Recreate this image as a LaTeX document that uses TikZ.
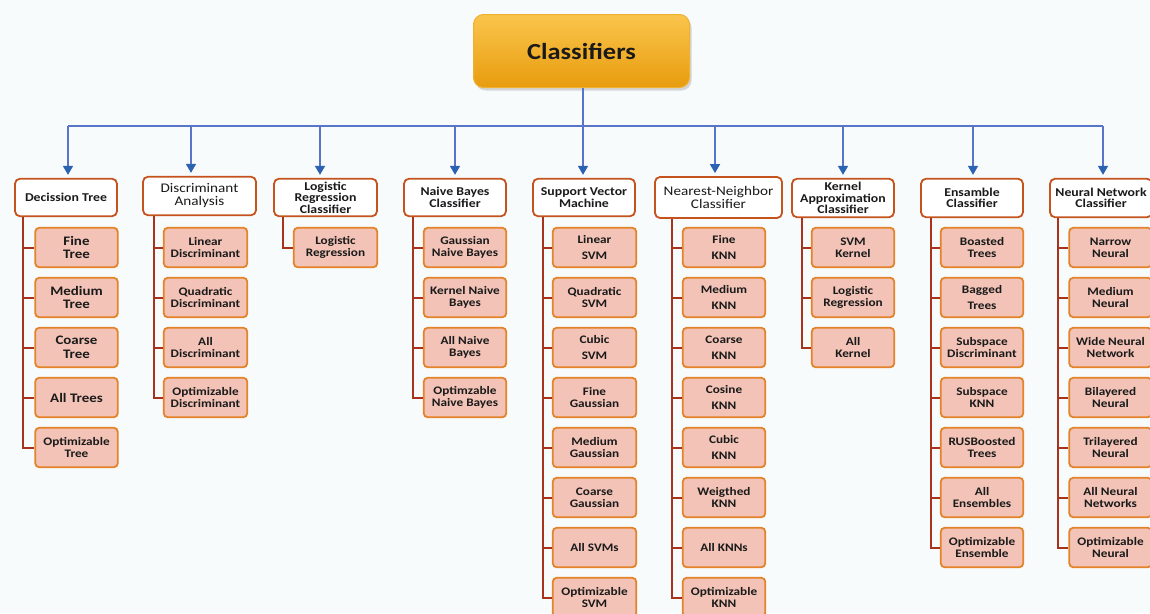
\documentclass[tikz,border=0pt]{standalone}
\usepackage{fontspec}
\newfontfamily\cf{Carlito}[FakeStretch=1.15]
\usetikzlibrary{arrows.meta,shadows}
\definecolor{bgc}{HTML}{F8FBFC}
\definecolor{childfill}{HTML}{F2C3B6}
\definecolor{childdraw}{HTML}{E3832A}
\definecolor{hdrdraw}{HTML}{C4531E}
\definecolor{treeline}{HTML}{A8321C}
\definecolor{busblue}{HTML}{5875C9}
\definecolor{arrowblue}{HTML}{2C62B2}
\definecolor{rootTop}{HTML}{FAC54C}
\definecolor{rootBot}{HTML}{E89C0E}
\definecolor{rootDraw}{HTML}{F0B030}
\definecolor{txt}{HTML}{1A1A1A}
\tikzset{
  leaf/.style={rectangle, rounded corners=4pt, draw=childdraw, fill=childfill,
    line width=1.8pt, minimum width=82.5pt, minimum height=39.5pt, inner sep=0pt,
    align=center, text=txt, font=\cf\bfseries\fontsize{11.5}{12}\selectfont},
  bigleaf/.style={leaf, font=\cf\bfseries\fontsize{13}{13.5}\selectfont},
  hdr/.style={rectangle, rounded corners=5pt, draw=hdrdraw, fill=white,
    line width=1.8pt, minimum width=102pt, minimum height=37.5pt, inner sep=0pt,
    align=center, text=txt, font=\cf\bfseries\fontsize{12}{11.5}\selectfont},
  hdrlight/.style={hdr, font=\cf\fontsize{13.2}{13}\selectfont},
  root/.style={rectangle, rounded corners=10pt, minimum width=216pt, minimum height=73pt,
    top color=rootTop, bottom color=rootBot, draw=rootDraw, line width=1pt,
    drop shadow={opacity=0.3, shadow xshift=2pt, shadow yshift=-3pt},
    text=txt, font=\cf\bfseries\fontsize{23}{24}\selectfont},
  branch/.style={draw=treeline, line width=2pt},
  busline/.style={draw=busblue, line width=1.6pt},
  arr/.style={busline, -{Triangle[width=10pt,length=9pt,color=arrowblue]}, shorten >=3pt},
}
\begin{document}
\begin{tikzpicture}[x=1pt,y=-1pt]
\fill[bgc] (0,0) rectangle (1150,613);
\useasboundingbox (0,0) rectangle (1150,613);
\clip (0,0) rectangle (1150,613);

% root
\node[root] (root) at (581.5,51) {Classifiers};

% headers
\node[hdr] (dth) at (66,197.5) {Decission Tree};
\node[hdrlight, minimum width=113pt, minimum height=38.5pt] (dah) at (199.5,196) {Discriminant\\Analysis};
\node[hdr, minimum width=103pt] (lrh) at (325.5,197.5) {Logistic\\Regression\\Classifier};
\node[hdr] (nbh) at (455,197.5) {Naive Bayes\\Classifier};
\node[hdr] (svh) at (584,197.5) {Support Vector\\Machine};
\node[hdrlight, minimum width=127pt, minimum height=41pt] (knh) at (718.5,197.5) {Nearest-Neighbor\\Classifier};
\node[hdr, minimum height=38.5pt] (kah) at (843,198) {Kernel\\Approximation\\Classifier};
\node[hdr, minimum height=38.5pt] (enh) at (972,198) {Ensamble\\Classifier};
\node[hdr, minimum height=38.5pt] (nnh) at (1101,198) {Neural Network\\Classifier};

% bus and arrows
\coordinate (bus) at (0,126);
\draw[busline] ([xshift=1.5pt]root.south) -- ([xshift=1.5pt]root.south |- bus);
\draw[busline] ([xshift=2pt]dth.north |- bus) -- ([xshift=2pt]nnh.north |- bus);
\draw[arr] ([xshift=2pt]dth.north |- bus) -- ([xshift=2pt]dth.north);
\draw[arr] ([xshift=-8.5pt]dah.north |- bus) -- ([xshift=-8.5pt]dah.north);
\draw[arr] ([xshift=-5.5pt]lrh.north |- bus) -- ([xshift=-5.5pt]lrh.north);
\draw[arr] (nbh.north |- bus) -- (nbh.north);
\draw[arr] ([xshift=-1pt]svh.north |- bus) -- ([xshift=-1pt]svh.north);
\draw[arr] ([xshift=-3.5pt]knh.north |- bus) -- ([xshift=-3.5pt]knh.north);
\draw[arr] (kah.north |- bus) -- (kah.north);
\draw[arr] ([xshift=1pt]enh.north |- bus) -- ([xshift=1pt]enh.north);
\draw[arr] ([xshift=2pt]nnh.north |- bus) -- ([xshift=2pt]nnh.north);

% Decision tree
\node[bigleaf] (dt1) at (76.5,247.5) {Fine\\Tree};
\node[bigleaf] (dt2) at (76.5,297.5) {Medium\\Tree};
\node[bigleaf] (dt3) at (76.5,347.5) {Coarse\\Tree};
\node[bigleaf] (dt4) at (76.5,397.5) {All Trees};
\node[leaf] (dt5) at (76.5,447.5) {Optimizable\\Tree};

% Discriminant
\node[leaf, minimum width=83.5pt] (da1) at (205.5,247.5) {Linear\\Discriminant};
\node[leaf, minimum width=83.5pt] (da2) at (205.5,297.5) {Quadratic\\Discriminant};
\node[leaf, minimum width=83.5pt] (da3) at (205.5,347.5) {All\\Discriminant};
\node[leaf, minimum width=83.5pt] (da4) at (205.5,397.5) {Optimizable\\Discriminant};

% Logistic regression
\node[leaf, minimum width=83.5pt] (lr1) at (335.5,247.5) {Logistic\\Regression};

% Naive Bayes
\node[leaf] (nb1) at (465,247.5) {Gaussian\\Naive Bayes};
\node[leaf] (nb2) at (465,297.5) {Kernel Naive\\Bayes};
\node[leaf] (nb3) at (465,347.5) {All Naive\\Bayes};
\node[leaf] (nb4) at (465,397.5) {Optimzable\\Naive Bayes};

% SVM
\node[leaf, minimum width=83.5pt] (sv1) at (594.5,247.5) {Linear\\[4pt]SVM};
\node[leaf, minimum width=83.5pt] (sv2) at (594.5,297.5) {Quadratic\\SVM};
\node[leaf, minimum width=83.5pt] (sv3) at (594.5,347.5) {Cubic\\[4pt]SVM};
\node[leaf, minimum width=83.5pt] (sv4) at (594.5,397.5) {Fine\\Gaussian};
\node[leaf, minimum width=83.5pt] (sv5) at (594.5,447.5) {Medium\\Gaussian};
\node[leaf, minimum width=83.5pt] (sv6) at (594.5,497.5) {Coarse\\Gaussian};
\node[leaf, minimum width=83.5pt] (sv7) at (594.5,547.5) {All SVMs};
\node[leaf, minimum width=83.5pt] (sv8) at (594.5,597.5) {Optimizable\\SVM};

% KNN
\node[leaf] (kn1) at (724,247.5) {Fine\\[4pt]KNN};
\node[leaf] (kn2) at (724,297.5) {Medium\\[4pt]KNN};
\node[leaf] (kn3) at (724,347.5) {Coarse\\[4pt]KNN};
\node[leaf] (kn4) at (724,397.5) {Cosine\\[4pt]KNN};
\node[leaf] (kn5) at (724,447.5) {Cubic\\[4pt]KNN};
\node[leaf] (kn6) at (724,497.5) {Weigthed\\KNN};
\node[leaf] (kn7) at (724,547.5) {All KNNs};
\node[leaf] (kn8) at (724,597.5) {Optimizable\\KNN};

% Kernel
\node[leaf] (ka1) at (853,247.5) {SVM\\Kernel};
\node[leaf] (ka2) at (853,297.5) {Logistic\\Regression};
\node[leaf] (ka3) at (853,347.5) {All\\Kernel};

% Ensemble
\node[leaf] (en1) at (982,247.5) {Boasted\\Trees};
\node[leaf] (en2) at (982,297.5) {Bagged\\[4pt]Trees};
\node[leaf] (en3) at (982,347.5) {Subspace\\Discriminant};
\node[leaf] (en4) at (982,397.5) {Subspace\\KNN};
\node[leaf] (en5) at (982,447.5) {RUSBoosted\\Trees};
\node[leaf] (en6) at (982,497.5) {All\\Ensembles};
\node[leaf] (en7) at (982,547.5) {Optimizable\\Ensemble};

% Neural
\node[leaf] (nn1) at (1110.5,247.5) {Narrow\\Neural};
\node[leaf] (nn2) at (1110.5,297.5) {Medium\\Neural};
\node[leaf] (nn3) at (1110.5,347.5) {Wide Neural\\Network};
\node[leaf] (nn4) at (1110.5,397.5) {Bilayered\\Neural};
\node[leaf] (nn5) at (1110.5,447.5) {Trilayered\\Neural};
\node[leaf] (nn6) at (1110.5,497.5) {All Neural\\Networks};
\node[leaf] (nn7) at (1110.5,547.5) {Optimizable\\Neural};

% branch lines
\draw[branch] ([xshift=-11pt]dt1.west |- dth.south) |- (dt5.west);
\foreach \i in {1,...,4} \draw[branch] ([xshift=-11pt]dt\i.west) -- (dt\i.west);
\draw[branch] ([xshift=-9pt]da1.west |- dah.south) |- (da4.west);
\foreach \i in {1,...,3} \draw[branch] ([xshift=-9pt]da\i.west) -- (da\i.west);
\draw[branch] ([xshift=-10pt]lr1.west |- lrh.south) |- (lr1.west);
\draw[branch] ([xshift=-10pt]nb1.west |- nbh.south) |- (nb4.west);
\foreach \i in {1,...,3} \draw[branch] ([xshift=-10pt]nb\i.west) -- (nb\i.west);
\draw[branch] ([xshift=-9pt]sv1.west |- svh.south) |- (sv8.west);
\foreach \i in {1,...,7} \draw[branch] ([xshift=-9pt]sv\i.west) -- (sv\i.west);
\draw[branch] ([xshift=-10pt]kn1.west |- knh.south) |- (kn8.west);
\foreach \i in {1,...,7} \draw[branch] ([xshift=-10pt]kn\i.west) -- (kn\i.west);
\draw[branch] ([xshift=-9pt]ka1.west |- kah.south) |- (ka3.west);
\foreach \i in {1,...,2} \draw[branch] ([xshift=-9pt]ka\i.west) -- (ka\i.west);
\draw[branch] ([xshift=-9pt]en1.west |- enh.south) |- (en7.west);
\foreach \i in {1,...,6} \draw[branch] ([xshift=-9pt]en\i.west) -- (en\i.west);
\draw[branch] ([xshift=-10pt]nn1.west |- nnh.south) |- (nn7.west);
\foreach \i in {1,...,6} \draw[branch] ([xshift=-10pt]nn\i.west) -- (nn\i.west);
\end{tikzpicture}
\end{document}
